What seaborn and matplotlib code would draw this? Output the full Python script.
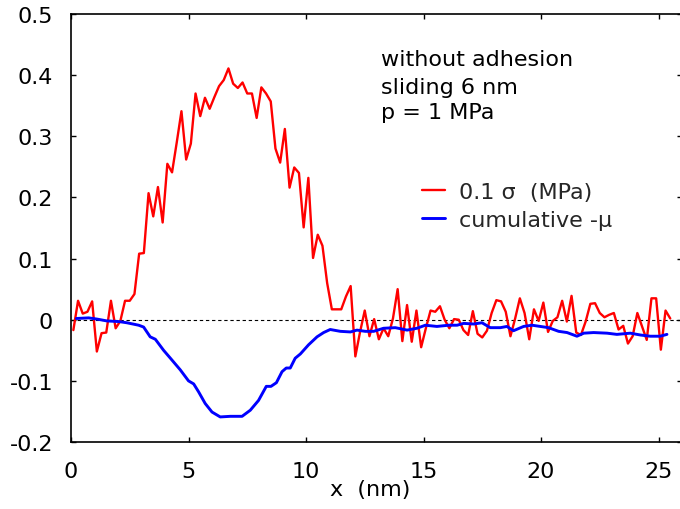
import numpy as np
import pandas as pd
import matplotlib
matplotlib.use("Agg")
import matplotlib.pyplot as plt
import seaborn as sns

# ---------------- data ----------------
# stress profile sampled on a 0.2 nm grid (bin centres 0.1 ... 25.5 nm)
sigma_x = np.round(np.arange(128) * 0.2 + 0.1, 2)
sigma_y = [
    -0.017, 0.031, 0.010, 0.013, 0.030, -0.052, -0.022, -0.021, 0.031, -0.014,
    -0.002, 0.031, 0.031, 0.042, 0.108, 0.109, 0.207, 0.169, 0.217, 0.159,
    0.255, 0.241, 0.290, 0.341, 0.262, 0.288, 0.370, 0.333, 0.363, 0.345,
    0.364, 0.382, 0.392, 0.411, 0.386, 0.379, 0.388, 0.370, 0.370, 0.330,
    0.380, 0.370, 0.357, 0.280, 0.257, 0.312, 0.216, 0.249, 0.240, 0.151,
    0.232, 0.101, 0.139, 0.121, 0.060, 0.017, 0.017, 0.017, 0.038, 0.055,
    -0.060, -0.020, 0.015, -0.027, 0.001, -0.032, -0.014, -0.027, 0.002, 0.050,
    -0.035, 0.024, -0.036, 0.015, -0.045, -0.014, 0.015, 0.013, 0.022, 0.000,
    -0.014, 0.001, 0.000, -0.017, -0.025, 0.014, -0.023, -0.029, -0.018, 0.011,
    0.032, 0.030, 0.013, -0.027, 0.002, 0.035, 0.011, -0.032, 0.017, -0.002,
    0.028, -0.020, -0.002, 0.004, 0.031, -0.003, 0.039, -0.021, -0.025, -0.003,
    0.026, 0.027, 0.011, 0.004, 0.008, 0.011, -0.016, -0.010, -0.039, -0.027,
    0.011, -0.011, -0.033, 0.035, 0.035, -0.049, 0.015, 0.002,
]

mu_x = [
    0.23, 0.75, 1.11, 1.53, 2.03, 2.38, 2.88, 3.09, 3.37, 3.59,
    3.94, 4.23, 4.65, 5.00, 5.22, 5.43, 5.71, 6.00, 6.35, 6.78,
    7.28, 7.63, 7.98, 8.31, 8.51, 8.74, 8.98, 9.16, 9.33, 9.54,
    9.76, 10.11, 10.47, 10.75, 11.03, 11.46, 11.89, 12.17, 12.52, 12.88,
    13.30, 13.80, 14.30, 14.72, 15.08, 15.57, 16.07, 16.43, 16.71, 17.13,
    17.49, 17.84, 18.27, 18.55, 18.83, 19.26, 19.62, 19.97, 20.32, 20.75,
    21.11, 21.53, 21.82, 22.24, 22.81, 23.23, 23.80, 24.23, 24.65, 25.07,
    25.36,
]
mu_y = [
    0.002, 0.003, 0.001, -0.002, -0.003, -0.005, -0.009, -0.012, -0.028, -0.032,
    -0.050, -0.063, -0.082, -0.100, -0.105, -0.118, -0.137, -0.151, -0.159, -0.158,
    -0.158, -0.148, -0.132, -0.109, -0.109, -0.103, -0.085, -0.079, -0.079, -0.063,
    -0.056, -0.041, -0.028, -0.021, -0.016, -0.019, -0.020, -0.017, -0.019, -0.019,
    -0.014, -0.013, -0.017, -0.014, -0.009, -0.011, -0.009, -0.009, -0.006, -0.007,
    -0.005, -0.013, -0.013, -0.011, -0.018, -0.011, -0.009, -0.011, -0.013, -0.019,
    -0.021, -0.027, -0.022, -0.021, -0.022, -0.024, -0.022, -0.025, -0.027, -0.027,
    -0.024,
]

x_ticks = [0, 5, 10, 15, 20, 25]
y_ticks = [-0.2, -0.1, 0, 0.1, 0.2, 0.3, 0.4, 0.5]
y_tick_labels = ["-0.2", "-0.1", "0", "0.1", "0.2", "0.3", "0.4", "0.5"]
label_sigma = "0.1 σ  (MPa)"
label_mu = "cumulative -μ"
notes = ["without adhesion", "sliding 6 nm", "p = 1 MPa"]

df_sigma = pd.DataFrame({"x": sigma_x, "y": sigma_y})
df_mu = pd.DataFrame({"x": mu_x, "y": mu_y})

# ---------------- style ----------------
sns.set_theme(style="white")
plt.rcParams["font.family"] = ["DejaVu Sans"]
FS = 16

W, H = 680, 510
fig = plt.figure(figsize=(W / 100, H / 100), dpi=100)
L, R, T, B = 71, 682, 15, 443
ax = fig.add_axes([L / W, 1 - B / H, (R - L) / W, (B - T) / H])

ax.axhline(0, color="black", lw=0.8, ls=(0, (3, 2.5)), zorder=1)
sns.lineplot(data=df_sigma, x="x", y="y", color="#ff0000", lw=1.7,
             estimator=None, sort=False, ax=ax, label=label_sigma, zorder=3)
sns.lineplot(data=df_mu, x="x", y="y", color="#0000ff", lw=2.1,
             estimator=None, sort=False, ax=ax, label=label_mu, zorder=4)

ax.set_xlim(0, 26)
ax.set_ylim(-0.2, 0.5)
ax.set_xticks(x_ticks)
ax.set_xticklabels([str(t) for t in x_ticks])
ax.set_yticks(y_ticks)
ax.set_yticklabels(y_tick_labels)
ax.tick_params(axis="both", direction="in", length=3.6, width=1.0,
               color="black", labelsize=FS, labelcolor="black",
               top=True, right=True, bottom=True, left=True)
ax.tick_params(axis="y", pad=13)
ax.tick_params(axis="x", pad=14)
for s in ax.spines.values():
    s.set_color("black")
    s.set_linewidth(1.2)

ax.set_ylabel("")
ax.set_xlabel("x  (nm)", fontsize=FS, color="black")
ax.xaxis.set_label_coords((370 - L) / (R - L), (B - 480) / (B - T))

baselines = [66, 94, 119]
for txt, yb in zip(notes, baselines):
    ax.text((381 - L) / (R - L), (B - yb) / (B - T), txt, transform=ax.transAxes,
            fontsize=FS, color="black", ha="left", va="baseline")

leg = ax.legend(loc="center left",
                bbox_to_anchor=((422 - L) / (R - L), (B - 207) / (B - T)),
                frameon=False, fontsize=FS, handlelength=1.05,
                handletextpad=0.6, labelspacing=0.35, borderpad=0,
                borderaxespad=0)

fig.savefig("out.png", dpi=100)
